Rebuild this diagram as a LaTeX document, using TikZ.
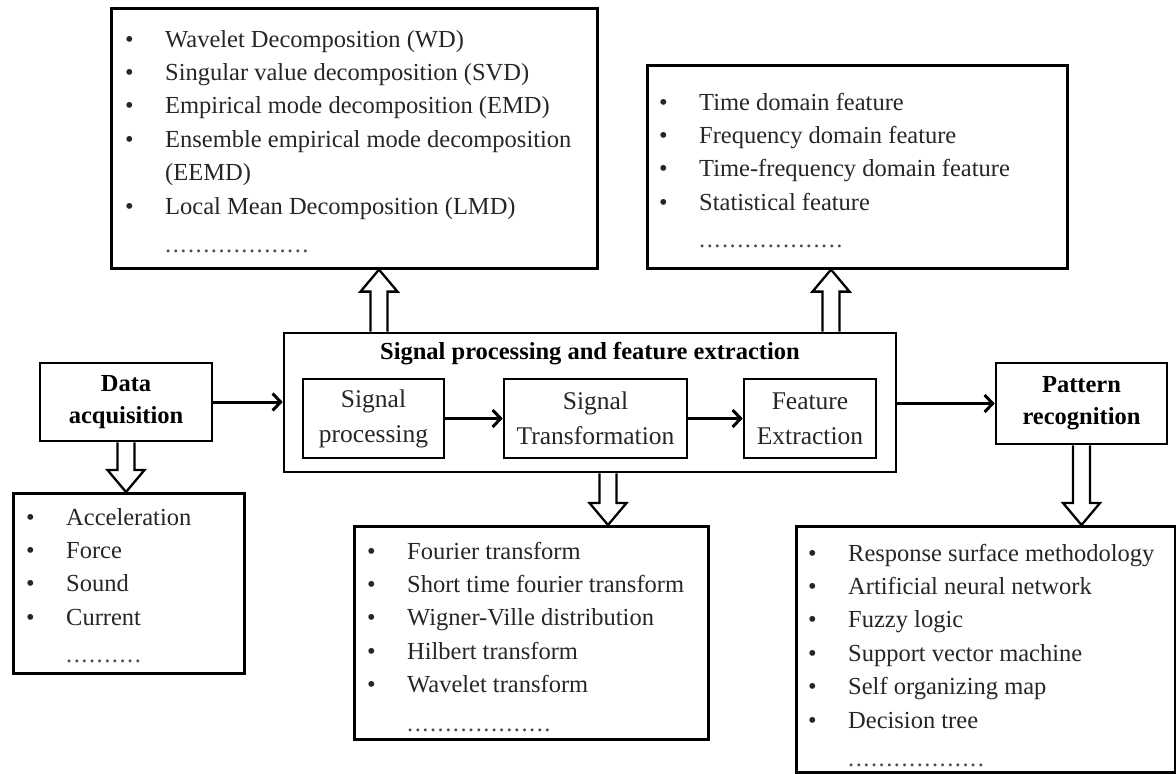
\documentclass[tikz,border=0pt]{standalone}
\usepackage{fontspec}
\setmainfont{Liberation Serif}
\usetikzlibrary{arrows.meta,calc}
\newcommand\mydots[1]{\foreach \k in {1,...,#1}{.\kern1.5pt}}
\newcommand\harrow[2]{%
  \coordinate (hb) at ($(#2)!22pt!(#1)$);
  \draw[hollow] ($(#1)+(-8.5,0)$) -- ($(hb)+(-8.5,0)$) -- ($(hb)+(-18.5,0)$) -- (#2)
    -- ($(hb)+(18.5,0)$) -- ($(hb)+(8.5,0)$) -- ($(#1)+(8.5,0)$);}
\begin{document}
\begin{tikzpicture}[x=1pt,y=-1pt,
  box/.style={draw=black, line width=2.6pt, rectangle, inner sep=0pt},
  lst/.style={anchor=base west, inner sep=0pt, text=black!85, font=\fontsize{24.5}{33.4}\selectfont},
  ttl/.style={font=\fontsize{24.5}{32}\selectfont\bfseries, align=center, inner sep=0pt},
  inbox/.style={box, font=\fontsize{25.5}{35}\selectfont, align=center, text=black!85},
  thinarrow/.style={line width=3pt, -{Straight Barb[length=8pt,width=17pt]}},
  hollow/.style={line width=2.3pt, line join=miter}]
\useasboundingbox (0,0) rectangle (1176,774);

% list boxes
\node[box, anchor=north west, minimum width=486pt, minimum height=260pt] (wd) at (110,7) {};
\node[box, anchor=north west, minimum width=420pt, minimum height=203pt] (ft) at (646,64) {};
\node[box, anchor=north west, minimum width=231pt, minimum height=180pt] (dl) at (12,492) {};
\node[box, anchor=north west, minimum width=354pt, minimum height=213pt] (tr) at (353,525) {};
\node[box, anchor=north west, minimum width=379pt, minimum height=246pt] (prl) at (795,525) {};

% main boxes
\node[box, ttl, minimum width=172pt, minimum height=78pt] (da) at (126,402) {Data\\acquisition};
\node[box, ttl, minimum width=171pt, minimum height=81pt] (pr) at (1081.5,403.5) {Pattern\\recognition};
\node[box, minimum width=612pt, minimum height=139pt] (spfe) at (590,402.5) {};
\node[ttl] (spt) at (590,354) {Signal processing and feature extraction};
\node[inbox, minimum width=141pt, minimum height=79pt] (sp) at (373.5,418.5) {Signal\\processing};
\node[inbox, minimum width=183pt, minimum height=79pt] (st) at (595.5,418.5) {Signal\\Transformation};
\node[inbox, minimum width=132pt, minimum height=79pt] (fe) at (810,418.5) {Feature\\Extraction};

% thin arrows
\draw[thinarrow] (da.east) -- (spfe.west |- da.east);
\draw[thinarrow] (sp.east) -- (st.west);
\draw[thinarrow] (st.east) -- (fe.west);
\draw[thinarrow] (spfe.east |- pr.west) -- (pr.west);

% hollow arrows
\coordinate (s1) at ([xshift=-211pt]spfe.north);
\coordinate (t1) at (s1 |- wd.south);
\harrow{s1}{t1}
\coordinate (s2) at ([xshift=241pt]spfe.north);
\coordinate (t2) at (s2 |- ft.south);
\harrow{s2}{t2}
\coordinate (s3) at ([xshift=18pt]spfe.south);
\coordinate (t3) at (s3 |- tr.north);
\harrow{s3}{t3}
\coordinate (s4) at (da.south);
\coordinate (t4) at (s4 |- dl.north);
\harrow{s4}{t4}
\coordinate (s5) at (pr.south);
\coordinate (t5) at (s5 |- prl.north);
\harrow{s5}{t5}

% list texts
\node[lst] (wdt) at (125,47) {\begin{tabular}[t]{@{}p{40pt}@{}l@{}}
\textbullet & Wavelet Decomposition (WD)\\
\textbullet & Singular value decomposition (SVD)\\
\textbullet & Empirical mode decomposition (EMD)\\
\textbullet & Ensemble empirical mode decomposition\\
 & (EEMD)\\
\textbullet & Local Mean Decomposition (LMD)\\[5pt]
 & \color{black!70}\mydots{19}
\end{tabular}};
\node[lst] (ftt) at (659,110) {\begin{tabular}[t]{@{}p{40pt}@{}l@{}}
\textbullet & Time domain feature\\
\textbullet & Frequency domain feature\\
\textbullet & Time-frequency domain feature\\
\textbullet & Statistical feature\\[4pt]
 & \color{black!70}\mydots{19}
\end{tabular}};
\node[lst] (dlt) at (26,525) {\begin{tabular}[t]{@{}p{40pt}@{}l@{}}
\textbullet & Acceleration\\
\textbullet & Force\\
\textbullet & Sound\\
\textbullet & Current\\[4pt]
 & \color{black!70}\mydots{10}
\end{tabular}};
\node[lst] (trt) at (367,559) {\begin{tabular}[t]{@{}p{40pt}@{}l@{}}
\textbullet & Fourier transform\\
\textbullet & Short time fourier transform\\
\textbullet & Wigner-Ville distribution\\
\textbullet & Hilbert transform\\
\textbullet & Wavelet transform\\[5pt]
 & \color{black!70}\mydots{19}
\end{tabular}};
\node[lst] (prt) at (808,561) {\begin{tabular}[t]{@{}p{40pt}@{}l@{}}
\textbullet & Response surface methodology\\
\textbullet & Artificial neural network\\
\textbullet & Fuzzy logic\\
\textbullet & Support vector machine\\
\textbullet & Self organizing map\\
\textbullet & Decision tree\\[5pt]
 & \color{black!70}\mydots{18}
\end{tabular}};
\end{tikzpicture}
\end{document}
